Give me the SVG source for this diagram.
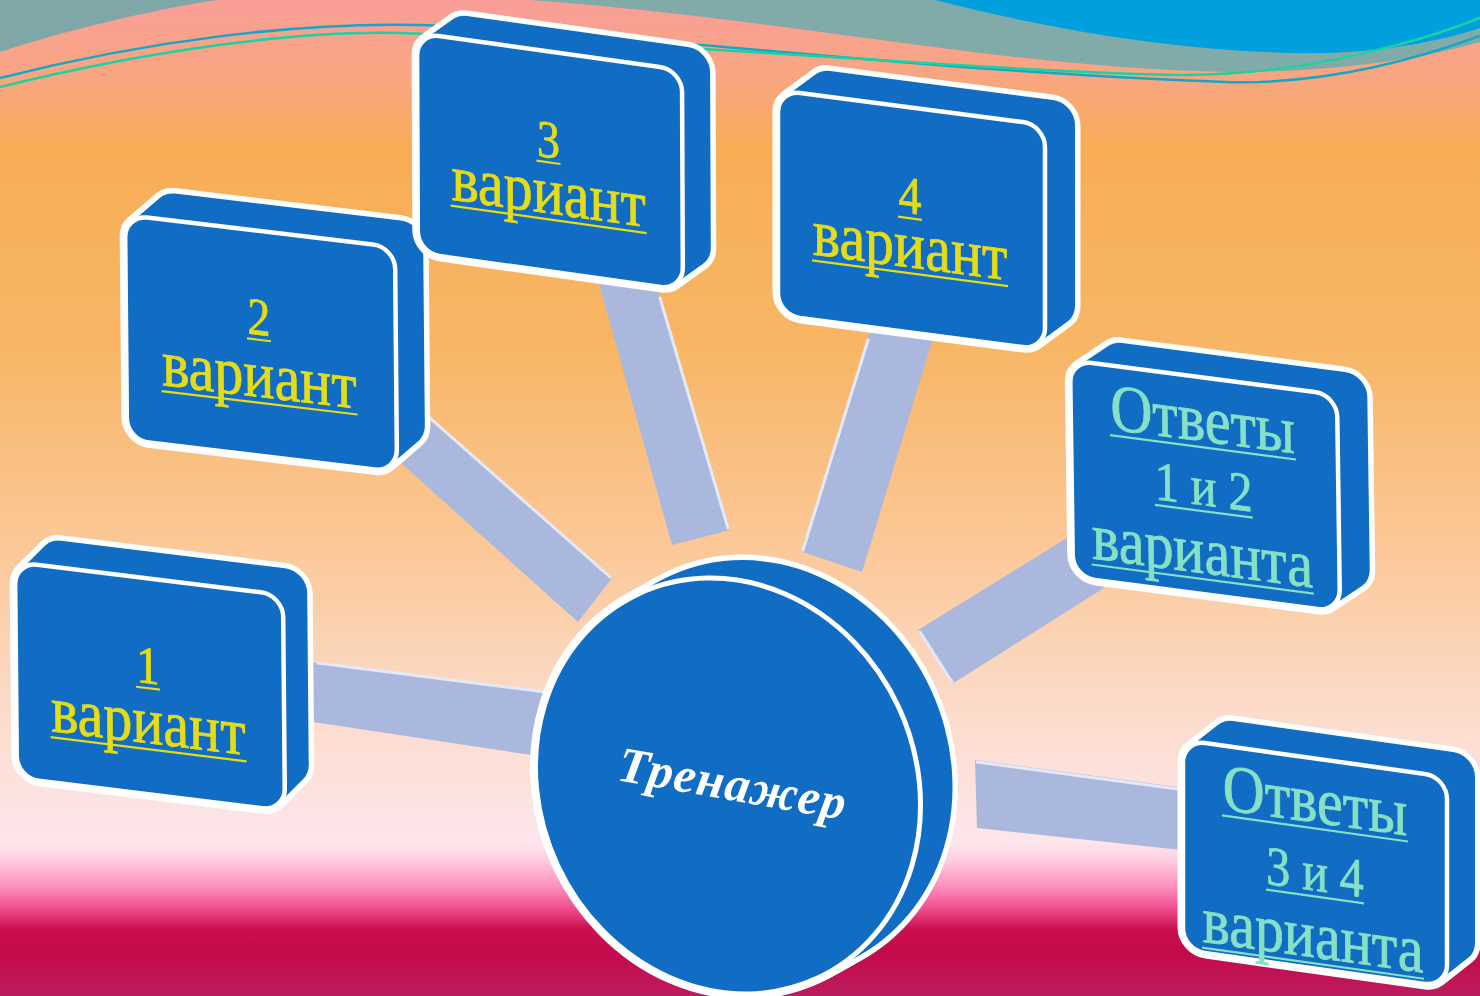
<svg xmlns="http://www.w3.org/2000/svg" xmlns:xlink="http://www.w3.org/1999/xlink" width="1480" height="996" viewBox="0 0 1480 996">
<style>
.ol{fill:#ffffff;stroke:#ffffff;stroke-width:11;stroke-linejoin:round}
.fl{fill:#116DC3;stroke:none}
.front{fill:#116DC3;stroke:#ffffff;stroke-width:4.5}
.bar{fill:#AAB8DE;stroke:none}
.hl{fill:none;stroke:#E4E9F5;stroke-width:3;stroke-linecap:round}
.ytx{font-family:"Liberation Serif","DejaVu Serif",serif;fill:#E4DC18;stroke:#E4DC18;stroke-width:0.7;text-anchor:middle}
.gtx{font-family:"Liberation Serif","DejaVu Serif",serif;fill:#86E0C6;stroke:#86E0C6;stroke-width:0.7;text-anchor:middle}
.uy{stroke:#E4DC18;stroke-width:2.2}
.ug{stroke:#86E0C6;stroke-width:2.2}
.ctx{font-family:"Liberation Serif","DejaVu Serif",serif;fill:#ffffff;font-style:italic;font-weight:bold;text-anchor:middle}
</style>
<defs>
<linearGradient id="bg" x1="0" y1="0" x2="0" y2="996" gradientUnits="userSpaceOnUse">
<stop offset="0" stop-color="#F99E98"/>
<stop offset="0.08" stop-color="#F8A680"/>
<stop offset="0.15" stop-color="#F7AE55"/>
<stop offset="0.35" stop-color="#F8B666"/>
<stop offset="0.55" stop-color="#FBC898"/>
<stop offset="0.72" stop-color="#FCDCCC"/>
<stop offset="0.845" stop-color="#FDE6EC"/>
<stop offset="0.862" stop-color="#FFD0E2"/>
<stop offset="0.89" stop-color="#FC90BC"/>
<stop offset="0.912" stop-color="#F04E90"/>
<stop offset="0.932" stop-color="#CC1050"/>
<stop offset="0.955" stop-color="#C40A4A"/>
<stop offset="1" stop-color="#BC1C5E"/>
</linearGradient>
<rect id="r1" width="268" height="216" rx="22"/>
<rect id="r2" width="270" height="225" rx="22"/>
<rect id="r3" width="265" height="220" rx="22"/>
<rect id="r4" width="267" height="225" rx="22"/>
<rect id="r5" width="267" height="217" rx="22"/>
<rect id="r6" width="264" height="210" rx="22"/>
<ellipse id="disc" cx="0" cy="0" rx="188" ry="212"/>
<g id="s1">
<use href="#r1" transform="translate(0,0) matrix(1,0.123,0.009,1,15,562)"/>
<use href="#r1" transform="translate(3,-3) matrix(1,0.123,0.009,1,15,562)"/>
<use href="#r1" transform="translate(6,-6) matrix(1,0.123,0.009,1,15,562)"/>
<use href="#r1" transform="translate(9,-9) matrix(1,0.123,0.009,1,15,562)"/>
<use href="#r1" transform="translate(12,-12) matrix(1,0.123,0.009,1,15,562)"/>
<use href="#r1" transform="translate(15,-15) matrix(1,0.123,0.009,1,15,562)"/>
<use href="#r1" transform="translate(18,-18) matrix(1,0.123,0.009,1,15,562)"/>
<use href="#r1" transform="translate(21,-21) matrix(1,0.123,0.009,1,15,562)"/>
<use href="#r1" transform="translate(24,-24) matrix(1,0.123,0.009,1,15,562)"/>
</g>
<g id="s2">
<use href="#r2" transform="translate(0,0) matrix(1,0.119,0.009,1,125,215)"/>
<use href="#r2" transform="translate(3.5,-3) matrix(1,0.119,0.009,1,125,215)"/>
<use href="#r2" transform="translate(7,-6) matrix(1,0.119,0.009,1,125,215)"/>
<use href="#r2" transform="translate(10.5,-9) matrix(1,0.119,0.009,1,125,215)"/>
<use href="#r2" transform="translate(14,-12) matrix(1,0.119,0.009,1,125,215)"/>
<use href="#r2" transform="translate(17.5,-15) matrix(1,0.119,0.009,1,125,215)"/>
<use href="#r2" transform="translate(21,-18) matrix(1,0.119,0.009,1,125,215)"/>
<use href="#r2" transform="translate(24.5,-21) matrix(1,0.119,0.009,1,125,215)"/>
<use href="#r2" transform="translate(28,-24) matrix(1,0.119,0.009,1,125,215)"/>
</g>
<g id="s3">
<use href="#r3" transform="translate(0,0) matrix(1,0.14,0.004,1,417,33)"/>
<use href="#r3" transform="translate(3.5,-2.5) matrix(1,0.14,0.004,1,417,33)"/>
<use href="#r3" transform="translate(7,-5) matrix(1,0.14,0.004,1,417,33)"/>
<use href="#r3" transform="translate(10.5,-7.5) matrix(1,0.14,0.004,1,417,33)"/>
<use href="#r3" transform="translate(14,-10) matrix(1,0.14,0.004,1,417,33)"/>
<use href="#r3" transform="translate(17.5,-12.5) matrix(1,0.14,0.004,1,417,33)"/>
<use href="#r3" transform="translate(21,-15) matrix(1,0.14,0.004,1,417,33)"/>
<use href="#r3" transform="translate(24.5,-17.5) matrix(1,0.14,0.004,1,417,33)"/>
<use href="#r3" transform="translate(28,-20) matrix(1,0.14,0.004,1,417,33)"/>
</g>
<g id="s4">
<use href="#r4" transform="translate(0,0) matrix(1,0.131,0,1,778,90)"/>
<use href="#r4" transform="translate(3.75,-2.75) matrix(1,0.131,0,1,778,90)"/>
<use href="#r4" transform="translate(7.5,-5.5) matrix(1,0.131,0,1,778,90)"/>
<use href="#r4" transform="translate(11.25,-8.25) matrix(1,0.131,0,1,778,90)"/>
<use href="#r4" transform="translate(15,-11) matrix(1,0.131,0,1,778,90)"/>
<use href="#r4" transform="translate(18.75,-13.75) matrix(1,0.131,0,1,778,90)"/>
<use href="#r4" transform="translate(22.5,-16.5) matrix(1,0.131,0,1,778,90)"/>
<use href="#r4" transform="translate(26.25,-19.25) matrix(1,0.131,0,1,778,90)"/>
<use href="#r4" transform="translate(30,-22) matrix(1,0.131,0,1,778,90)"/>
</g>
<g id="s5">
<use href="#r5" transform="translate(0,0) matrix(1,0.131,0.014,1,1070,360)"/>
<use href="#r5" transform="translate(3.75,-2.5) matrix(1,0.131,0.014,1,1070,360)"/>
<use href="#r5" transform="translate(7.5,-5) matrix(1,0.131,0.014,1,1070,360)"/>
<use href="#r5" transform="translate(11.25,-7.5) matrix(1,0.131,0.014,1,1070,360)"/>
<use href="#r5" transform="translate(15,-10) matrix(1,0.131,0.014,1,1070,360)"/>
<use href="#r5" transform="translate(18.75,-12.5) matrix(1,0.131,0.014,1,1070,360)"/>
<use href="#r5" transform="translate(22.5,-15) matrix(1,0.131,0.014,1,1070,360)"/>
<use href="#r5" transform="translate(26.25,-17.5) matrix(1,0.131,0.014,1,1070,360)"/>
<use href="#r5" transform="translate(30,-20) matrix(1,0.131,0.014,1,1070,360)"/>
</g>
<g id="s6">
<use href="#r6" transform="translate(0,0) matrix(1,0.14,0,1,1183,740)"/>
<use href="#r6" transform="translate(3.5,-2.75) matrix(1,0.14,0,1,1183,740)"/>
<use href="#r6" transform="translate(7,-5.5) matrix(1,0.14,0,1,1183,740)"/>
<use href="#r6" transform="translate(10.5,-8.25) matrix(1,0.14,0,1,1183,740)"/>
<use href="#r6" transform="translate(14,-11) matrix(1,0.14,0,1,1183,740)"/>
<use href="#r6" transform="translate(17.5,-13.75) matrix(1,0.14,0,1,1183,740)"/>
<use href="#r6" transform="translate(21,-16.5) matrix(1,0.14,0,1,1183,740)"/>
<use href="#r6" transform="translate(24.5,-19.25) matrix(1,0.14,0,1,1183,740)"/>
<use href="#r6" transform="translate(28,-22) matrix(1,0.14,0,1,1183,740)"/>
</g>
<g id="sc">
<use href="#disc" transform="translate(728,786) rotate(-25)"/>
<use href="#disc" transform="translate(732,783.75) rotate(-25)"/>
<use href="#disc" transform="translate(736,781.5) rotate(-25)"/>
<use href="#disc" transform="translate(740,779.25) rotate(-25)"/>
<use href="#disc" transform="translate(744,777) rotate(-25)"/>
<use href="#disc" transform="translate(748,774.75) rotate(-25)"/>
<use href="#disc" transform="translate(752,772.5) rotate(-25)"/>
<use href="#disc" transform="translate(756,770.25) rotate(-25)"/>
<use href="#disc" transform="translate(760,768) rotate(-25)"/>
</g>
</defs>

<g id="background">
<rect width="1480" height="996" fill="url(#bg)"/>
<path d="M0,0 L217,0 C150,10 60,32 0,52 Z" fill="#80A7A8"/>
<path d="M530,0 C800,20 1000,68 1230,72 C1350,72 1430,56 1480,42 L1480,0 Z" fill="#80ABA8"/>
<path d="M935,0 C1060,32 1200,55 1330,53 C1400,50 1450,38 1480,28 L1480,0 Z" fill="#009FDD"/>
<path d="M0,78 C150,40 300,22 420,25 C600,30 900,70 1226,82 C1330,85 1420,58 1480,36" fill="none" stroke="#12A8C6" stroke-width="2.5"/>
<path d="M0,87 C150,50 300,30 400,33 C700,45 1000,72 1180,75 C1300,76 1420,42 1480,18" fill="none" stroke="#1CD2A2" stroke-width="2.5"/>
</g>

<g id="connectors">
<polygon class="bar" points="300,661 548,692 538,756 300,720"/>
<line class="hl" x1="318" y1="663" x2="546" y2="692"/>
<polygon class="bar" points="412,405 612,578 578,622 392,455"/>
<line class="hl" x1="430" y1="418" x2="610" y2="577"/>
<polygon class="bar" points="598,280 656,285 730,530 672,545"/>
<line class="hl" x1="660" y1="298" x2="728" y2="528"/>
<polygon class="bar" points="870,330 934,335 862,572 803,552"/>
<line class="hl" x1="868" y1="340" x2="803" y2="550"/>
<polygon class="bar" points="1080,530 1104,588 952,684 918,630"/>
<line class="hl" x1="920" y1="632" x2="952" y2="682"/>
<polygon class="bar" points="975,760 1200,790 1200,852 977,828"/>
<line class="hl" x1="977" y1="762" x2="1185" y2="790"/>
</g>

<g id="node-1">
<use href="#s1" class="ol"/>
<use href="#s1" class="fl"/>
<g transform="matrix(1,0.123,0.009,1,15,562)">
<use href="#r1" class="front"/>
<text class="ytx" font-size="46" transform="translate(132,105) scale(1,1.15)">1</text>
<line class="uy" x1="120" y1="110" x2="144" y2="110"/>
<text class="ytx" font-size="58" transform="translate(132,165) scale(1,1.15)">вариант</text>
<line class="uy" x1="34" y1="171" x2="230" y2="171"/>
</g>
</g>

<g id="node-2">
<use href="#s2" class="ol"/>
<use href="#s2" class="fl"/>
<g transform="matrix(1,0.119,0.009,1,125,215)">
<use href="#r2" class="front"/>
<text class="ytx" font-size="46" transform="translate(133,104) scale(1,1.15)">2</text>
<line class="uy" x1="121" y1="109" x2="145" y2="109"/>
<text class="ytx" font-size="58" transform="translate(133,166) scale(1,1.15)">вариант</text>
<line class="uy" x1="35" y1="172" x2="231" y2="172"/>
</g>
</g>

<g id="node-3">
<use href="#s3" class="ol"/>
<use href="#s3" class="fl"/>
<g transform="matrix(1,0.14,0.004,1,417,33)">
<use href="#r3" class="front"/>
<text class="ytx" font-size="46" transform="translate(131,106) scale(1,1.15)">3</text>
<line class="uy" x1="119" y1="111" x2="143" y2="111"/>
<text class="ytx" font-size="58" transform="translate(131,162) scale(1,1.15)">вариант</text>
<line class="uy" x1="33" y1="168" x2="229" y2="168"/>
</g>
</g>

<g id="node-4">
<use href="#s4" class="ol"/>
<use href="#s4" class="fl"/>
<g transform="matrix(1,0.131,0,1,778,90)">
<use href="#r4" class="front"/>
<text class="ytx" font-size="46" transform="translate(132,106) scale(1,1.15)">4</text>
<line class="uy" x1="120" y1="111" x2="144" y2="111"/>
<text class="ytx" font-size="58" transform="translate(132,160) scale(1,1.15)">вариант</text>
<line class="uy" x1="34" y1="166" x2="230" y2="166"/>
</g>
</g>

<g id="node-5">
<use href="#s5" class="ol"/>
<use href="#s5" class="fl"/>
<g transform="matrix(1,0.131,0.014,1,1070,360)">
<use href="#r5" class="front"/>
<text class="gtx" font-size="58" transform="translate(132,64) scale(1,1.15)">Ответы</text>
<line class="ug" x1="39" y1="70" x2="225" y2="70"/>
<text class="gtx" font-size="48" transform="translate(132,128) scale(1,1.15)">1 и 2</text>
<line class="ug" x1="83" y1="134" x2="181" y2="134"/>
<text class="gtx" font-size="58" transform="translate(130,196) scale(1,1.15)">варианта</text>
<line class="ug" x1="19" y1="202" x2="241" y2="202"/>
</g>
</g>

<g id="node-6">
<use href="#s6" class="ol"/>
<use href="#s6" class="fl"/>
<g transform="matrix(1,0.14,0,1,1183,740)">
<use href="#r6" class="front"/>
<text class="gtx" font-size="58" transform="translate(132,64) scale(1,1.15)">Ответы</text>
<line class="ug" x1="39" y1="70" x2="225" y2="70"/>
<text class="gtx" font-size="48" transform="translate(132,132) scale(1,1.15)">3 и 4</text>
<line class="ug" x1="83" y1="138" x2="181" y2="138"/>
<text class="gtx" font-size="58" transform="translate(130,199) scale(1,1.15)">варианта</text>
<line class="ug" x1="19" y1="205" x2="241" y2="205"/>
</g>
</g>

<g id="node-center">
<use href="#sc" class="ol"/>
<use href="#sc" class="fl"/>
<use href="#disc" class="front" transform="translate(728,786) rotate(-25)" style="stroke-width:5"/>
<text class="ctx" font-size="50" letter-spacing="1" transform="translate(730,800) rotate(10)">Тренажер</text>
</g>
</svg>
